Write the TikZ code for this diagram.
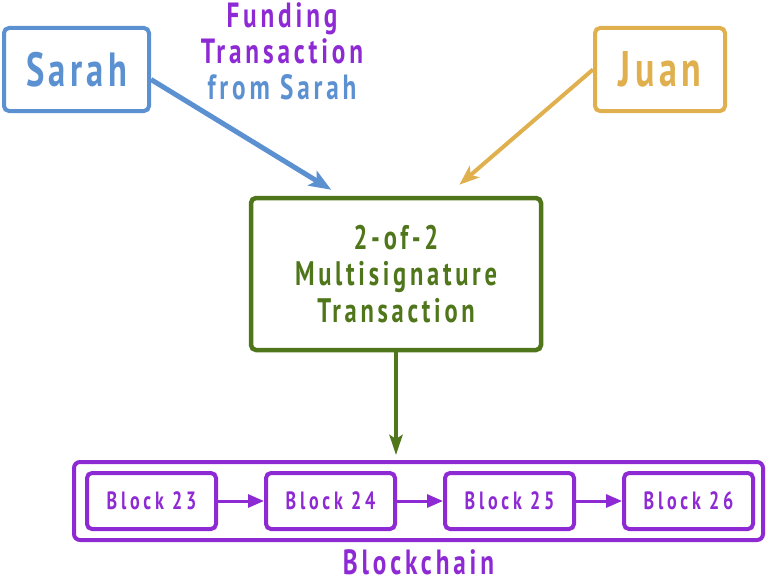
\documentclass[tikz,border=0pt]{standalone}
\usepackage{fontspec}
\setmainfont{PT Sans}[FakeStretch=0.72,LetterSpace=9]
\usetikzlibrary{positioning, arrows.meta, calc}
\definecolor{sarahblue}{RGB}{91,144,209}
\definecolor{juangold}{RGB}{224,176,78}
\definecolor{msgreen}{RGB}{79,118,26}
\definecolor{chainpurple}{RGB}{142,42,212}
\tikzset{
        x=1pt, y=-1pt,
        node distance=46pt,
        party/.style={draw, line width=4pt, rounded corners=5pt, minimum height=83pt, font=\fontsize{50}{50}\selectfont\bfseries},
        multisig/.style={draw=msgreen, text=msgreen, line width=4.5pt, rounded corners=5pt, minimum width=290pt, minimum height=152pt, align=center, font=\fontsize{34}{36.5}\selectfont\bfseries\addfontfeatures{LetterSpace=11}},
        block/.style={draw=chainpurple, text=chainpurple, line width=4pt, rounded corners=5pt, minimum width=129pt, minimum height=56pt, font=\fontsize{25}{25}\selectfont\bfseries\addfontfeatures{LetterSpace=15}},
        chain/.style={draw=chainpurple, line width=4pt, rounded corners=6pt, minimum width=689pt, minimum height=78pt},
        link/.style={chainpurple, line width=3pt, -{Triangle[length=16pt,width=13pt]}}
        }
\begin{document}
\begin{tikzpicture}
        \useasboundingbox (0,0) rectangle (768,586);
        % the two parties
        \node[party, draw=sarahblue, text=sarahblue, minimum width=145pt, font=\fontsize{48}{48}\selectfont\bfseries](sarah) at (76.5,69.5){Sarah};
        \node[party, draw=juangold, text=juangold, minimum width=130pt](juan) at (660,69.5){Juan};
        \node[align=center, font=\fontsize{35}{36}\selectfont\bfseries\addfontfeatures{LetterSpace=11}](funding) at (282,51){\textcolor{chainpurple}{Funding}\\\textcolor{chainpurple}{Transaction}\\\textcolor{sarahblue}{from Sarah}};
        \node[multisig](ms) at (396,274){2-of-2\\Multisignature\\Transaction};
        % the chain
        \node[chain](chain) at (418.5,501){};
        \node[block](b23) at (151.5,501){Block 23};
        \node[block, right=of b23](b24){Block 24};
        \node[block, right=of b24](b25){Block 25};
        \node[block, right=of b25](b26){Block 26};
        \node[text=chainpurple, font=\fontsize{35}{35}\selectfont\bfseries\addfontfeatures{LetterSpace=11}, inner sep=1pt, below=6pt of chain](label){Blockchain};
        \draw[sarahblue, line width=5pt, -{Stealth[length=22pt,width=17pt,inset=5pt]}] ($(sarah.east)+(0,10)$) -- ($(ms.north west)!0.28!(ms.north east)+(0,-6)$);
        \draw[juangold, line width=4pt, -{Stealth[length=20pt,width=15pt,inset=5pt]}] (juan.west) -- ($(ms.north west)!0.715!(ms.north east)+(0,-11)$);
        \draw[msgreen, line width=4pt, -{Stealth[length=20pt,width=13pt,inset=4pt]}] (ms.south) -- ($(chain.north -| ms.south)+(0,-5)$);
        \draw[link] (b23) -- (b24);
        \draw[link] (b24) -- (b25);
        \draw[link] (b25) -- (b26);
\end{tikzpicture}
\end{document}
